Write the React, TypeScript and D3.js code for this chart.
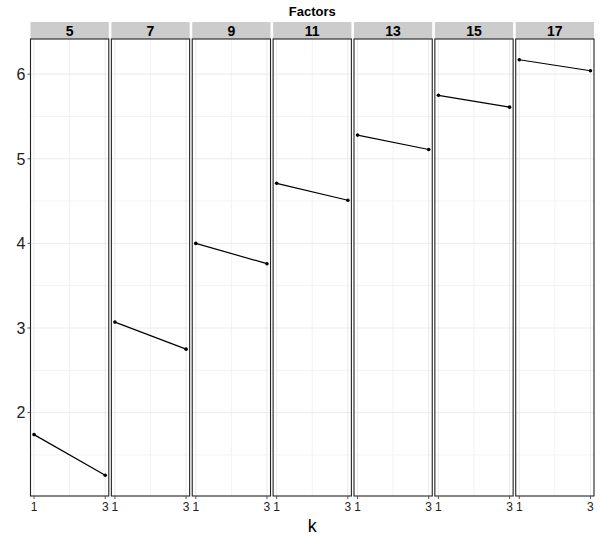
import React, { useEffect, useRef } from 'react';
import * as d3 from 'd3';

const factors = ['5', '7', '9', '11', '13', '15', '17'];
const kValues = [1, 3];
const scoreAtK1 = [1.74, 3.07, 4.0, 4.71, 5.28, 5.75, 6.17];
const scoreAtK3 = [1.26, 2.75, 3.76, 4.51, 5.11, 5.61, 6.04];
const yTicks = [2, 3, 4, 5, 6];
const yMinor = [1.5, 2.5, 3.5, 4.5, 5.5];

const W = 605;
const H = 540;
const margin = { top: 39, right: 11, bottom: 44, left: 30.5 };
const stripH = 17;
const FONT = '"Liberation Sans", Arial, Helvetica, sans-serif';

export default function App() {
  const svgRef = useRef<SVGSVGElement>(null);

  useEffect(() => {
    if (!svgRef.current) return;
    const svg = d3.select(svgRef.current);
    svg.selectAll('*').remove();

    const allValues = [...scoreAtK1, ...scoreAtK3];
    const lo = d3.min(allValues)!;
    const hi = d3.max(allValues)!;
    const pad = (hi - lo) * 0.05;

    const panelBottom = H - margin.bottom;
    const y = d3.scaleLinear().domain([lo - pad, hi + pad]).range([panelBottom, margin.top]);

    const panels = d3.scaleBand<string>()
      .domain(factors)
      .range([margin.left, W - margin.right])
      .paddingInner(0.032);
    const pw = panels.bandwidth();

    const xPad = (kValues[1] - kValues[0]) * 0.05;
    const xDomain: [number, number] = [kValues[0] - xPad, kValues[1] + xPad];

    svg.append('rect').attr('width', W).attr('height', H).attr('fill', 'white');

    // facet variable title
    svg.append('text')
      .attr('x', (margin.left + W - margin.right) / 2)
      .attr('y', 16)
      .attr('text-anchor', 'middle')
      .attr('font-family', FONT)
      .attr('font-weight', 'bold')
      .attr('font-size', 13)
      .text('Factors');

    factors.forEach((f, i) => {
      const x0 = panels(f)!;
      const x = d3.scaleLinear().domain(xDomain).range([x0, x0 + pw]);
      const g = svg.append('g');

      // strip
      g.append('rect')
        .attr('x', x0)
        .attr('y', margin.top - stripH)
        .attr('width', pw)
        .attr('height', stripH)
        .attr('fill', '#cccccc');
      g.append('text')
        .attr('x', x0 + pw / 2)
        .attr('y', margin.top - 3.5)
        .attr('text-anchor', 'middle')
        .attr('font-family', FONT)
        .attr('font-weight', 'bold')
        .attr('font-size', 14)
        .text(f);

      // grid
      yMinor.forEach(v => {
        g.append('line')
          .attr('x1', x0).attr('x2', x0 + pw)
          .attr('y1', y(v)).attr('y2', y(v))
          .attr('stroke', '#f2f2f2').attr('stroke-width', 1);
      });
      g.append('line')
        .attr('x1', x(2)).attr('x2', x(2))
        .attr('y1', margin.top).attr('y2', panelBottom)
        .attr('stroke', '#f2f2f2').attr('stroke-width', 1);
      yTicks.forEach(v => {
        g.append('line')
          .attr('x1', x0).attr('x2', x0 + pw)
          .attr('y1', y(v)).attr('y2', y(v))
          .attr('stroke', '#ebebeb').attr('stroke-width', 1);
      });
      kValues.forEach(k => {
        g.append('line')
          .attr('x1', x(k)).attr('x2', x(k))
          .attr('y1', margin.top).attr('y2', panelBottom)
          .attr('stroke', '#ebebeb').attr('stroke-width', 1);
      });

      // data
      const pts: [number, number][] = [[kValues[0], scoreAtK1[i]], [kValues[1], scoreAtK3[i]]];
      const line = d3.line<[number, number]>().x(d => x(d[0])).y(d => y(d[1]));
      g.append('path')
        .attr('d', line(pts)!)
        .attr('fill', 'none')
        .attr('stroke', 'black')
        .attr('stroke-width', 1.2);
      pts.forEach(p => {
        g.append('circle')
          .attr('cx', x(p[0])).attr('cy', y(p[1]))
          .attr('r', 1.8)
          .attr('fill', 'black');
      });

      // border
      g.append('rect')
        .attr('x', x0).attr('y', margin.top)
        .attr('width', pw).attr('height', panelBottom - margin.top)
        .attr('fill', 'none')
        .attr('stroke', '#222')
        .attr('stroke-width', 1.1);

      // x axis
      kValues.forEach(k => {
        g.append('line')
          .attr('x1', x(k)).attr('x2', x(k))
          .attr('y1', panelBottom).attr('y2', panelBottom + 3)
          .attr('stroke', '#555');
        g.append('text')
          .attr('x', x(k))
          .attr('y', panelBottom + 15)
          .attr('text-anchor', 'middle')
          .attr('font-family', FONT)
          .attr('font-size', 12)
          .attr('fill', '#222')
          .text(k);
      });
    });

    // y axis
    yTicks.forEach(v => {
      svg.append('line')
        .attr('x1', margin.left - 3).attr('x2', margin.left)
        .attr('y1', y(v)).attr('y2', y(v))
        .attr('stroke', '#555');
      svg.append('text')
        .attr('x', margin.left - 5)
        .attr('y', y(v))
        .attr('dy', '0.36em')
        .attr('text-anchor', 'end')
        .attr('font-family', FONT)
        .attr('font-size', 16)
        .attr('fill', '#222')
        .text(v);
    });

    // x title
    svg.append('text')
      .attr('x', (margin.left + W - margin.right) / 2)
      .attr('y', 532)
      .attr('text-anchor', 'middle')
      .attr('font-family', FONT)
      .attr('font-size', 18)
      .text('k');
  }, []);

  return (
    <svg
      ref={svgRef}
      width={W}
      height={H}
      style={{ position: 'absolute', left: 0, top: 0 }}
    />
  );
}
